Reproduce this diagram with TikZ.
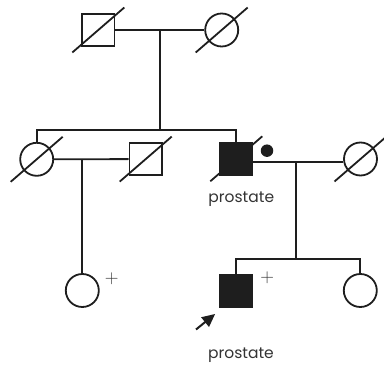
\documentclass[tikz,border=0pt]{standalone}
\usepackage{fontspec}
\setmainfont{Poppins}
\usetikzlibrary{arrows.meta}
\definecolor{ink}{HTML}{1E1E1E}
\definecolor{txt}{HTML}{333333}
\begin{document}
\begin{tikzpicture}[x=1pt,y=-1pt,line width=1.8pt,draw=ink,
  male/.style={draw=ink,rectangle,minimum size=32.5pt,inner sep=0pt,line width=1.8pt},
  female/.style={draw=ink,circle,minimum size=33pt,inner sep=0pt,line width=1.8pt},
  affected/.style={fill=ink},
  lbl/.style={text=txt,font=\fontsize{15.5}{15.5}\selectfont,inner sep=0pt},
  plus/.style={text=txt,font=\fontspec{Latin Modern Roman}\fontsize{19}{19}\selectfont,inner sep=0pt}]
\useasboundingbox (0,0) rectangle (384,369);
% generation I
\node[male] (gf) at (98.3,30) {};
\node[female] (gm) at (221.7,30) {};
% generation II
\node[female] (a1) at (36.7,159.3) {};
\node[male] (a1sp) at (145.7,159.1) {};
\node[male,affected] (p) at (236.3,158.8) {};
\node[female] (psp) at (360.5,159) {};
% generation III
\node[female] (c1) at (82.3,290.5) {};
\node[male,affected] (c2) at (236.3,291.3) {};
\node[female] (c3) at (360.3,290.5) {};
% deceased slashes
\foreach \n in {gf,gm,a1,a1sp,p,psp}{
  \draw ([shift={(-26,22.5)}]\n.center) -- ([shift={(26,-22.5)}]\n.center);
}
% marriages and descent
\coordinate (m1) at (160.3,30);
\coordinate (s1) at (160.3,130);
\draw (gf.east) -- (gm.west);
\draw (m1) -- (s1);
\draw (a1.north) -- (a1.north |- s1) -- (p.north |- s1) -- (p.north);
\coordinate (m2) at (82.3,159);
\draw (a1.east) -- (a1sp.west);
\draw (m2) -- (c1.north);
\coordinate (m3) at (296.3,161.7);
\coordinate (s3) at (296.3,259.3);
\draw ([yshift=-2.9pt]p.east) -- ([yshift=-2.7pt]psp.west);
\draw (m3) -- (s3);
\draw (c2.north) -- (c2.north |- s3) -- (c3.north |- s3) -- (c3.north);
% marks
\node[circle,fill=ink,minimum size=12.5pt,inner sep=0pt] (dot) at (267,150.7) {};
\node[plus] (pl1) at (111.8,278.3) {+};
\node[plus] (pl2) at (267.3,277.3) {+};
\coordinate (arrtail) at (196,329.5);
\draw[-{Triangle[length=13pt,width=12pt]},line width=2pt] (arrtail) -- ([shift={(-4,5.5)}]c2.south west);
% labels
\node[lbl] (t1) at (241.3,199) {prostate};
\node[lbl] (t2) at (241,355.5) {prostate};
\end{tikzpicture}
\end{document}
